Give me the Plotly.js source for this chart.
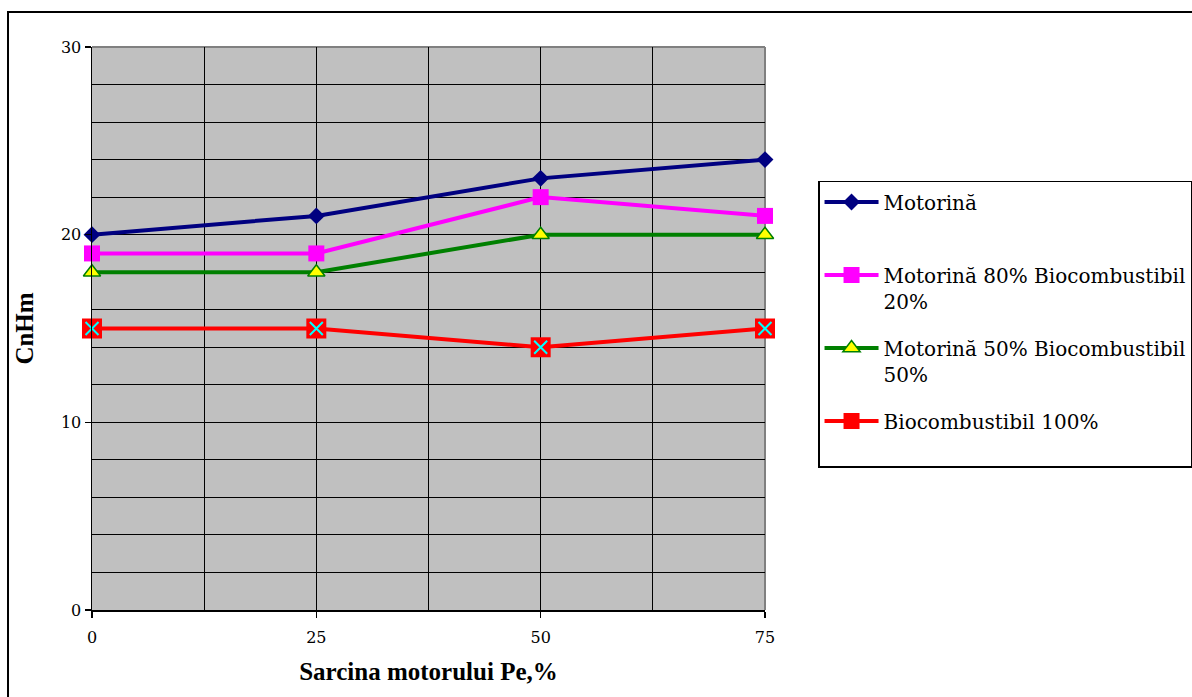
<!DOCTYPE html>
<html>
<head>
<meta charset="utf-8">
<script src="https://cdn.plot.ly/plotly-3.0.1.min.js"></script>
<style>html,body{margin:0;padding:0;background:#fff;}#chart{width:1192px;height:697px;}</style>
</head>
<body>
<div id="chart"></div>
<script>
const load = [0, 25, 50, 75];
const motorina = [20, 21, 23, 24];
const m80b20 = [19, 19, 22, 21];
const m50b50 = [18, 18, 20, 20];
const bio100 = [15, 15, 14, 15];
const names = ["Motorină<br> ", "Motorină 80% Biocombustibil<br>20%", "Motorină 50% Biocombustibil<br>50%", "Biocombustibil 100%<br> "];
const xTitle = "Sarcina motorului Pe,%";
const yTitle = "CnHm";

const serifBold = "Liberation Serif";
const serifReg = "DejaVu Serif";

const traces = [
  {x: load, y: motorina, name: names[0], mode: 'lines+markers', cliponaxis: false, legendgroup: 'a',
   line: {color: '#000080', width: 4}, marker: {symbol: 'diamond', size: 13, color: '#000080'}},
  {x: load, y: m80b20, name: names[1], mode: 'lines+markers', cliponaxis: false, legendgroup: 'b',
   line: {color: '#FF00FF', width: 4}, marker: {symbol: 'square', size: 16, color: '#FF00FF'}},
  {x: load, y: m50b50, name: names[2], mode: 'lines+markers', cliponaxis: false, legendgroup: 'c',
   line: {color: '#008000', width: 4}, marker: {symbol: 'triangle-up', size: 15, color: '#FFFF00', line: {color: '#008000', width: 1.5}}},
  {x: load, y: bio100, name: names[3], mode: 'lines+markers', cliponaxis: false, legendgroup: 'd',
   line: {color: '#FF0000', width: 4}, marker: {symbol: 'square', size: 20, color: '#FF0000'}},
  {x: load, y: bio100, name: names[3], mode: 'markers', cliponaxis: false, legendgroup: 'd', showlegend: false,
   marker: {symbol: 'x-thin', size: 13, color: '#00FFFF', line: {color: '#00FFFF', width: 2}}}
];

const layout = {
  width: 1192, height: 697,
  margin: {l: 92, r: 427, t: 47, b: 87, autoexpand: false},
  paper_bgcolor: '#ffffff',
  plot_bgcolor: '#C0C0C0',
  font: {family: serifReg, color: '#000', size: 16},
  showlegend: true,
  legend: {
    x: 1.0788, y: 0.762, xanchor: 'left', yanchor: 'top',
    bgcolor: '#ffffff', bordercolor: '#000', borderwidth: 1.5,
    font: {family: serifReg, size: 20, color: '#000'},
    valign: 'top', tracegroupgap: 18, traceorder: 'grouped', itemwidth: 54
  },
  xaxis: {
    range: [0, 75], tick0: 0, dtick: 25, tickmode: 'linear',
    showgrid: true, gridcolor: '#000', gridwidth: 1,
    minor: {dtick: 12.5, tick0: 0, showgrid: true, gridcolor: '#000', gridwidth: 1, ticklen: 0},
    showline: true, linecolor: '#000', linewidth: 1.5,
    ticks: 'outside', ticklen: 6, tickcolor: '#000', tickwidth: 1.5,
    ticklabelstandoff: 6,
    zeroline: false,
    tickfont: {family: serifReg, size: 16},
    title: {text: xTitle, font: {family: serifBold, size: 25, weight: 'bold'}, standoff: 17}
  },
  yaxis: {
    range: [0, 30], tick0: 0, dtick: 10, tickmode: 'linear',
    showgrid: true, gridcolor: '#000', gridwidth: 1,
    minor: {dtick: 2, tick0: 0, showgrid: true, gridcolor: '#000', gridwidth: 1, ticklen: 0},
    showline: true, linecolor: '#000', linewidth: 1.5,
    ticks: 'outside', ticklen: 6, tickcolor: '#000', tickwidth: 1.5,
    zeroline: false,
    tickfont: {family: serifReg, size: 16},
    title: {text: yTitle, font: {family: serifBold, size: 25, weight: 'bold'}, standoff: 20}
  },
  shapes: [
    {type: 'line', xref: 'paper', yref: 'paper', x0: 0, x1: 1, y0: 1, y1: 1, layer: 'between', line: {color: '#808080', width: 2}},
    {type: 'line', xref: 'paper', yref: 'paper', x0: 1, x1: 1, y0: 0, y1: 1, layer: 'between', line: {color: '#808080', width: 2}},
    {type: 'rect', xref: 'paper', yref: 'paper', x0: -0.1248, x1: 1.9, y0: -0.2, y1: 1.0622, layer: 'below', line: {color: '#000', width: 2}}
  ]
};

Plotly.newPlot('chart', traces, layout, {displayModeBar: false, staticPlot: true});
</script>
</body>
</html>
